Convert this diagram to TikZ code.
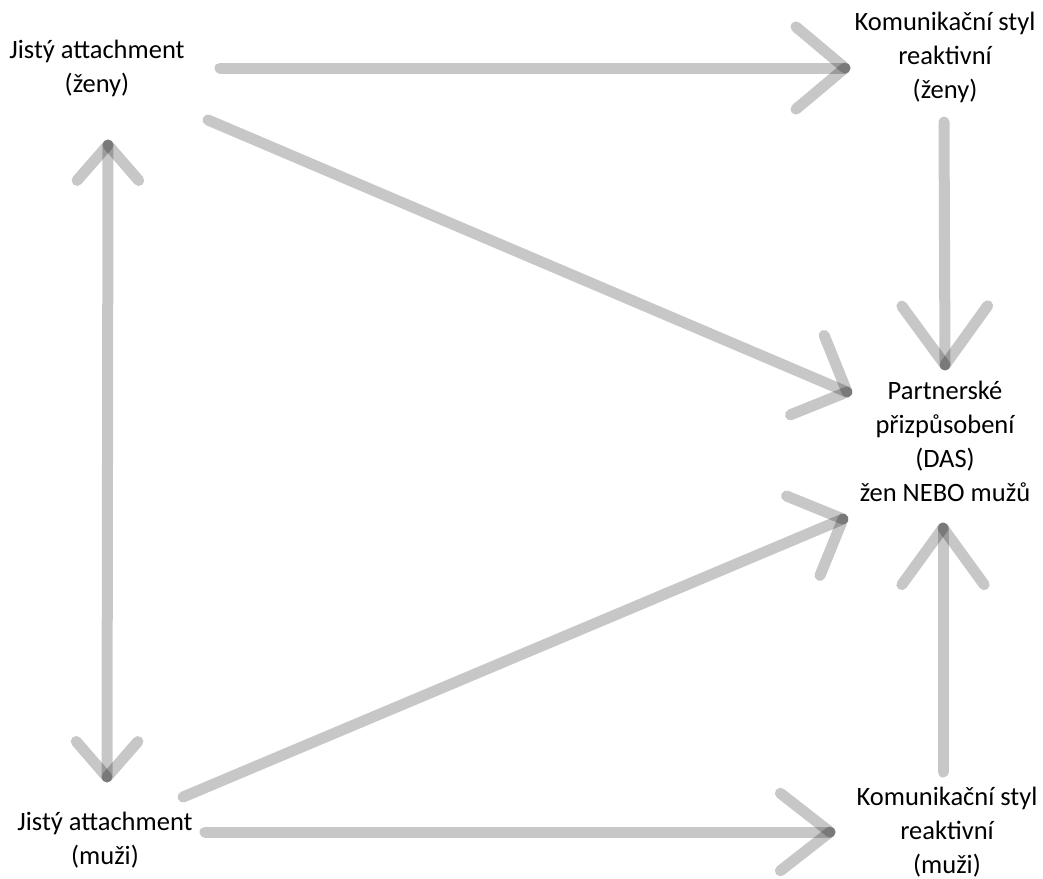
\documentclass[tikz,border=0pt]{standalone}
\usepackage{fontspec}
\setmainfont{Carlito}
\usetikzlibrary{calc}

\tikzset{
  label text/.style={align=center, text=black, font=\fontsize{26.5pt}{34pt}\selectfont, inner sep=0pt},
  link/.style={draw=black, draw opacity=0.22, line width=11pt, line cap=round}
}

% two barbs at tip #2 of a shaft coming from #1, opened by #3 degrees, #4 long
\newcommand{\barbs}[4]{%
  \draw[link] ($(#2)!#4!#3:(#1)$) -- (#2);
  \draw[link] ($(#2)!#4!-#3:(#1)$) -- (#2);
}
% shaft from #1 to #2 plus its barbs
\newcommand{\linkarrow}[4]{%
  \draw[link] (#1) -- (#2);
  \barbs{#1}{#2}{#3}{#4}
}

\begin{document}
\begin{tikzpicture}[x=1pt, y=-1pt]
  \useasboundingbox (0,0) rectangle (1043,878);

  % texts
  \node[label text] (jz) at (97,68)  {Jistý attachment\\(ženy)};
  \node[label text] (kz) at (945,57) {Komunikační styl\\reaktivní\\(ženy)};
  \node[label text] (das) at (945,441) {Partnerské\\přizpůsobení\\(DAS)\\žen NEBO mužů};
  \node[label text] (jm) at (105,840) {Jistý attachment\\(muži)};
  \node[label text] (km) at (947,832) {Komunikační styl\\reaktivní\\(muži)};

  % connector end points
  \coordinate (jz-r)  at (220,68);
  \coordinate (kz-l)  at (845,68);
  \coordinate (jz-d)  at (208,120);
  \coordinate (das-a) at (847,392);
  \coordinate (kz-b)  at (944,122);
  \coordinate (das-t) at (945,365);
  \coordinate (jm-u)  at (183,797);
  \coordinate (das-b) at (843,519);
  \coordinate (km-t)  at (943,772);
  \coordinate (das-u) at (943,528);
  \coordinate (jz-b)  at (108,145);
  \coordinate (jm-t)  at (107,777);
  \coordinate (jm-r)  at (205,832);
  \coordinate (km-l)  at (830,832);

  % connectors
  \linkarrow{jz-r}{kz-l}{40}{64pt}
  \linkarrow{jz-d}{das-a}{45}{61pt}
  \linkarrow{kz-b}{das-t}{36}{73pt}
  \linkarrow{jm-u}{das-b}{45}{61pt}
  \linkarrow{km-t}{das-u}{36}{70pt}
  \linkarrow{jz-b}{jm-t}{41}{47pt}
  \barbs{jm-t}{jz-b}{41}{47pt}
  \linkarrow{jm-r}{km-l}{38}{63pt}
\end{tikzpicture}
\end{document}
